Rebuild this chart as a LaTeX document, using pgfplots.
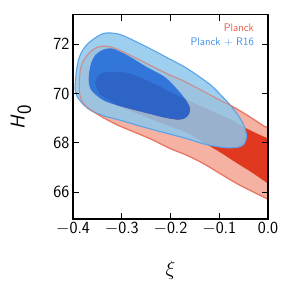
\documentclass[border=0pt]{standalone}
\usepackage{fontspec}
\usepackage{pgfplots}
\pgfplotsset{compat=1.18}
\definecolor{redlight}{HTML}{F5B1A1}
\definecolor{redline}{HTML}{E97764}
\definecolor{reddark}{HTML}{E0391F}
\definecolor{bluelight}{RGB}{141,199,236}
\definecolor{bluedark}{RGB}{16,108,228}
\definecolor{blueline}{HTML}{5AA3E8}
\definecolor{plancktext}{HTML}{EB5A45}
\definecolor{r16text}{HTML}{3D8EE8}
\begin{document}
\begin{tikzpicture}
\useasboundingbox (-73pt,-75pt) rectangle (221pt,219pt);
\begin{axis}[
  at={(0,0)}, anchor=south west,
  scale only axis, width=195pt, height=204.3pt,
  xmin=-0.4, xmax=0, ymin=64.9, ymax=73.2,
  xtick={-0.4,-0.3,-0.2,-0.1,0},
  xticklabels={$-$0.4,$-$0.3,$-$0.2,$-$0.1,0.0},
  ytick={66,68,70,72}, yticklabels={66,68,70,72},
  tick align=inside,
  major tick length=6pt,
  every tick/.style={black, line width=0.8pt},
  axis line style={line width=1.2pt},
  axis on top,
  tick label style={font=\fontsize{17}{17}\selectfont\sffamily},
  xlabel={$\xi$},
  ylabel={$\textsf{\textit{H}}_{\textsf{0}}$},
  label style={font=\fontsize{20}{20}\selectfont},
  x label style={at={([yshift=-51pt]axis description cs:0.5,0)}, anchor=center},
  y label style={at={([xshift=-52pt]axis description cs:0,0.5)}, anchor=center},
]
% Planck 95%
\addplot[draw=redline, line width=1.1pt, fill=redlight, smooth cycle] coordinates {
(-0.3850,69.862) (-0.3871,70.407) (-0.3850,70.947) (-0.3781,71.354) (-0.3645,71.691)
(-0.3508,71.870) (-0.3337,71.923) (-0.3132,71.829) (-0.2790,71.516) (-0.2359,71.089)
(-0.2010,70.744) (-0.1764,70.541) (-0.1436,70.203) (-0.1026,69.768) (-0.0738,69.484)
(-0.0410,69.098) (-0.0062,68.650) (0.0082,68.549) (0.025,67.1) (0.0082,65.642)
(-0.0027,65.732) (-0.0302,66.000) (-0.0642,66.341) (-0.0985,66.748) (-0.1327,67.154)
(-0.1668,67.492) (-0.2010,67.764) (-0.2353,68.102) (-0.2687,68.386) (-0.3036,68.671)
(-0.3262,68.894) (-0.3467,69.118) (-0.3733,69.484)
};
% Planck 68%
\addplot[draw=none, fill=reddark, smooth cycle] coordinates {
(-0.3543,70.407) (-0.3473,70.744) (-0.3344,70.854) (-0.3056,70.878) (-0.2790,70.785)
(-0.2359,70.419) (-0.2010,70.073) (-0.1600,69.687) (-0.1190,69.321) (-0.0738,68.915)
(-0.0431,68.569) (-0.0062,68.224) (0.0144,68.081) (0.03,67.2) (0.0144,66.191)
(0,66.341) (-0.0308,66.760) (-0.0636,67.167) (-0.0985,67.614) (-0.1333,68.020)
(-0.1662,68.400) (-0.2215,68.813) (-0.2626,69.138) (-0.3036,69.463) (-0.3241,69.707)
(-0.3446,69.972)
};
% Planck + R16 95% (ring)
\addplot[draw=none, fill=bluelight, fill opacity=0.85, even odd rule, smooth cycle, unbounded coords=jump] coordinates {
(-0.3953,70.407) (-0.3928,70.947) (-0.3877,71.435) (-0.3774,71.841) (-0.3610,72.167)
(-0.3385,72.431) (-0.3179,72.451) (-0.2995,72.370) (-0.2687,72.085) (-0.2359,71.760)
(-0.2051,71.435) (-0.1703,71.069) (-0.1395,70.663) (-0.1149,70.297) (-0.0944,69.890)
(-0.0738,69.443) (-0.0574,68.996) (-0.0472,68.589) (-0.0441,68.224) (-0.0492,67.939)
(-0.0615,67.817) (-0.0882,67.797) (-0.1292,67.939) (-0.1662,68.163) (-0.2010,68.346)
(-0.2359,68.528) (-0.2687,68.711) (-0.3036,68.915) (-0.3344,69.077) (-0.3610,69.280)
(-0.3774,69.524) (-0.3918,69.890) (-0.3959,70.215)
(-0.2,nan)
(-0.3678,70.541) (-0.3662,70.947) (-0.3621,71.272) (-0.3543,71.557) (-0.3405,71.760)
(-0.3200,71.829) (-0.2892,71.557) (-0.2482,71.069) (-0.2113,70.663) (-0.1846,70.134)
(-0.1682,69.728) (-0.1600,69.402) (-0.1621,69.159) (-0.1703,68.996) (-0.1846,68.935)
(-0.2113,69.016) (-0.2359,69.138) (-0.2687,69.301) (-0.3036,69.484) (-0.3344,69.687)
(-0.3549,69.972) (-0.3651,70.215)
};
% Planck + R16 68%
\addplot[draw=none, fill=bluedark, fill opacity=0.85, smooth cycle] coordinates {
(-0.3678,70.541) (-0.3662,70.947) (-0.3621,71.272) (-0.3543,71.557) (-0.3405,71.760)
(-0.3200,71.829) (-0.2892,71.557) (-0.2482,71.069) (-0.2113,70.663) (-0.1846,70.134)
(-0.1682,69.728) (-0.1600,69.402) (-0.1621,69.159) (-0.1703,68.996) (-0.1846,68.935)
(-0.2113,69.016) (-0.2359,69.138) (-0.2687,69.301) (-0.3036,69.484) (-0.3344,69.687)
(-0.3549,69.972) (-0.3651,70.215)
};
% Planck + R16 outline
\addplot[draw=blueline, line width=1.1pt, smooth cycle] coordinates {
(-0.3953,70.407) (-0.3928,70.947) (-0.3877,71.435) (-0.3774,71.841) (-0.3610,72.167)
(-0.3385,72.431) (-0.3179,72.451) (-0.2995,72.370) (-0.2687,72.085) (-0.2359,71.760)
(-0.2051,71.435) (-0.1703,71.069) (-0.1395,70.663) (-0.1149,70.297) (-0.0944,69.890)
(-0.0738,69.443) (-0.0574,68.996) (-0.0472,68.589) (-0.0441,68.224) (-0.0492,67.939)
(-0.0615,67.817) (-0.0882,67.797) (-0.1292,67.939) (-0.1662,68.163) (-0.2010,68.346)
(-0.2359,68.528) (-0.2687,68.711) (-0.3036,68.915) (-0.3344,69.077) (-0.3610,69.280)
(-0.3774,69.524) (-0.3918,69.890) (-0.3959,70.215)
};
% Planck outline seen through
\addplot[draw=redline, draw opacity=0.65, line width=1.1pt, smooth cycle] coordinates {
(-0.3850,69.862) (-0.3871,70.407) (-0.3850,70.947) (-0.3781,71.354) (-0.3645,71.691)
(-0.3508,71.870) (-0.3337,71.923) (-0.3132,71.829) (-0.2790,71.516) (-0.2359,71.089)
(-0.2010,70.744) (-0.1764,70.541) (-0.1436,70.203) (-0.1026,69.768) (-0.0738,69.484)
(-0.0410,69.098) (-0.0062,68.650) (0.0082,68.549) (0.025,67.1) (0.0082,65.642)
(-0.0027,65.732) (-0.0302,66.000) (-0.0642,66.341) (-0.0985,66.748) (-0.1327,67.154)
(-0.1668,67.492) (-0.2010,67.764) (-0.2353,68.102) (-0.2687,68.386) (-0.3036,68.671)
(-0.3262,68.894) (-0.3467,69.118) (-0.3733,69.484)
};
\node[anchor=base east, text=plancktext, font=\fontsize{11}{11}\selectfont\sffamily] at (rel axis cs:0.946,0.917) {Planck};
\node[anchor=base east, text=r16text, font=\fontsize{11}{11}\selectfont\sffamily] at (rel axis cs:0.946,0.847) {Planck + R16};
\end{axis}
\end{tikzpicture}
\end{document}
